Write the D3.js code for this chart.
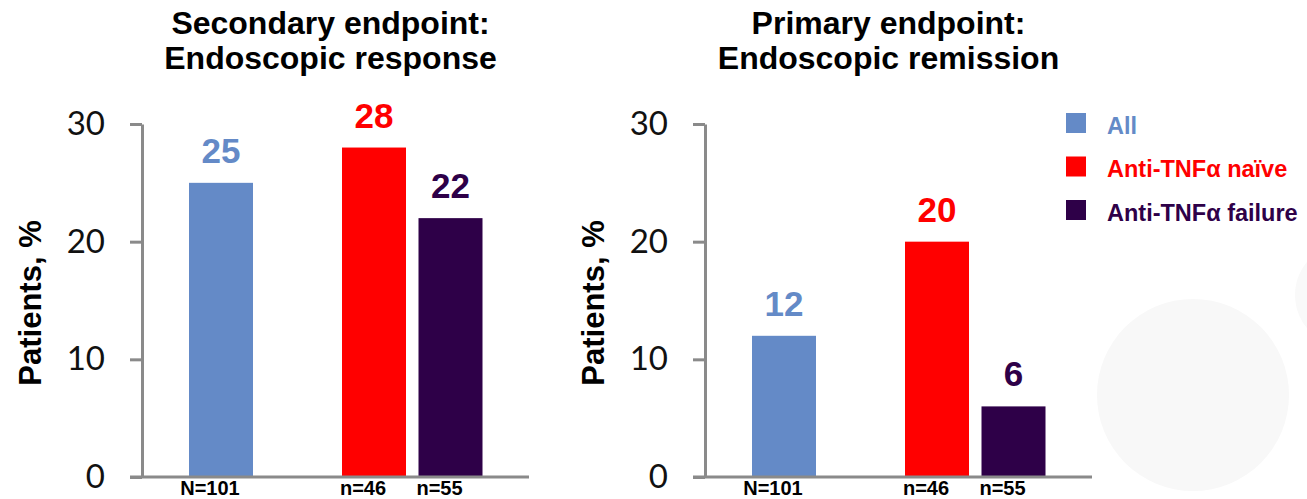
<!DOCTYPE html>
<html>
<head>
<meta charset="utf-8">
<script src="https://cdn.jsdelivr.net/npm/d3@7"></script>
<style>
  html, body { margin: 0; padding: 0; background: #ffffff; }
  svg { display: block; }
</style>
</head>
<body>
<svg id="chart" width="1307" height="499"></svg>
<script>
// ---- data ----
const categories = ["All", "Anti-TNFα naïve", "Anti-TNFα failure"];
const sampleSizes = ["N=101", "n=46", "n=55"];
const responseValues = [25, 28, 22];   // Secondary endpoint: Endoscopic response
const remissionValues = [12, 20, 6];   // Primary endpoint: Endoscopic remission
const titlesLine1 = ["Secondary endpoint:", "Primary endpoint:"];
const titlesLine2 = ["Endoscopic response", "Endoscopic remission"];
const yTicks = [0, 10, 20, 30];
const yLabel = "Patients, %";

// ---- styles ----
const colors = ["#648AC7", "#FF0000", "#2E0048"];
const axisColor = "#8a8a8a";
const boldFont = "'Liberation Sans', Arial, sans-serif";
const tickFont = "Lato, 'Open Sans', sans-serif";

const svg = d3.select("#chart");

// background decoration circles
svg.append("circle").attr("cx", 1193).attr("cy", 395).attr("r", 96).attr("fill", "#f8f8f8");
svg.append("circle").attr("cx", 1347).attr("cy", 295).attr("r", 52).attr("fill", "#f9f9f9");

const panelOrigins = [142, 705];
const panelWidth = 387;
const y = d3.scaleLinear().domain([0, 30]).range([477, 124]);

const slots = [categories[0], "__gap__", categories[1], categories[2]];
const x = d3.scaleBand().domain(slots).range([47, 340.5]).paddingInner(0.1634).paddingOuter(0);

const panelValues = [responseValues, remissionValues];

panelValues.forEach((vals, p) => {
  const g = svg.append("g").attr("transform", `translate(${panelOrigins[p]},0)`);
  const data = categories.map((c, i) => ({ cat: c, value: vals[i], n: sampleSizes[i], color: colors[i] }));

  // title
  const titleCx = panelWidth / 2 - 5 - p * 5;
  g.append("text").attr("x", titleCx).attr("y", 34)
    .attr("text-anchor", "middle").attr("font-family", boldFont).attr("font-weight", "bold")
    .attr("font-size", 32).attr("fill", "#000").text(titlesLine1[p]);
  g.append("text").attr("x", titleCx).attr("y", 69)
    .attr("text-anchor", "middle").attr("font-family", boldFont).attr("font-weight", "bold")
    .attr("font-size", 32).attr("fill", "#000").text(titlesLine2[p]);

  // bars
  g.selectAll("rect.bar").data(data).enter().append("rect")
    .attr("class", "bar")
    .attr("x", d => x(d.cat))
    .attr("y", d => y(d.value))
    .attr("width", x.bandwidth())
    .attr("height", d => y(0) - y(d.value))
    .attr("fill", d => d.color);

  // value labels
  g.selectAll("text.val").data(data).enter().append("text")
    .attr("class", "val")
    .attr("x", d => x(d.cat) + x.bandwidth() / 2)
    .attr("y", d => y(d.value) - 20)
    .attr("text-anchor", "middle")
    .attr("font-family", boldFont).attr("font-weight", "bold").attr("font-size", 35)
    .attr("fill", d => d.color)
    .text(d => d.value);

  // n labels
  g.selectAll("text.n").data(data).enter().append("text")
    .attr("class", "n")
    .attr("x", d => x(d.cat) + x.bandwidth() / 2 - 11)
    .attr("y", 494.5)
    .attr("text-anchor", "middle")
    .attr("font-family", boldFont).attr("font-weight", "bold").attr("font-size", 20)
    .attr("fill", "#000")
    .text(d => d.n);

  // y axis
  const yAxis = d3.axisLeft(y).tickValues(yTicks).tickSize(12).tickSizeOuter(0).tickPadding(25);
  const ax = g.append("g").call(yAxis);
  ax.select(".domain").attr("stroke", axisColor).attr("stroke-width", 3);
  ax.selectAll(".tick line").attr("stroke", axisColor).attr("stroke-width", 3);
  ax.selectAll(".tick text").attr("font-family", tickFont).attr("font-size", 33)
    .attr("fill", "#111");

  // baseline
  g.append("line").attr("x1", -12).attr("x2", panelWidth)
    .attr("y1", y(0)).attr("y2", y(0))
    .attr("stroke", axisColor).attr("stroke-width", 3);

  // y label
  g.append("text")
    .attr("transform", `translate(${-112},${303}) rotate(-90)`)
    .attr("text-anchor", "middle").attr("dy", "0.35em")
    .attr("font-family", boldFont).attr("font-weight", "bold").attr("font-size", 31)
    .attr("fill", "#000").text(yLabel);
});

// legend
const legend = svg.append("g").attr("transform", "translate(1066,113)");
categories.forEach((c, i) => {
  const row = legend.append("g").attr("transform", `translate(0,${i * 43.5})`);
  row.append("rect").attr("width", 20).attr("height", 20).attr("fill", colors[i]);
  row.append("text").attr("x", 41).attr("y", 20.5)
    .attr("font-family", boldFont).attr("font-weight", "bold").attr("font-size", 23.5)
    .attr("fill", colors[i]).text(c);
});
</script>
</body>
</html>
